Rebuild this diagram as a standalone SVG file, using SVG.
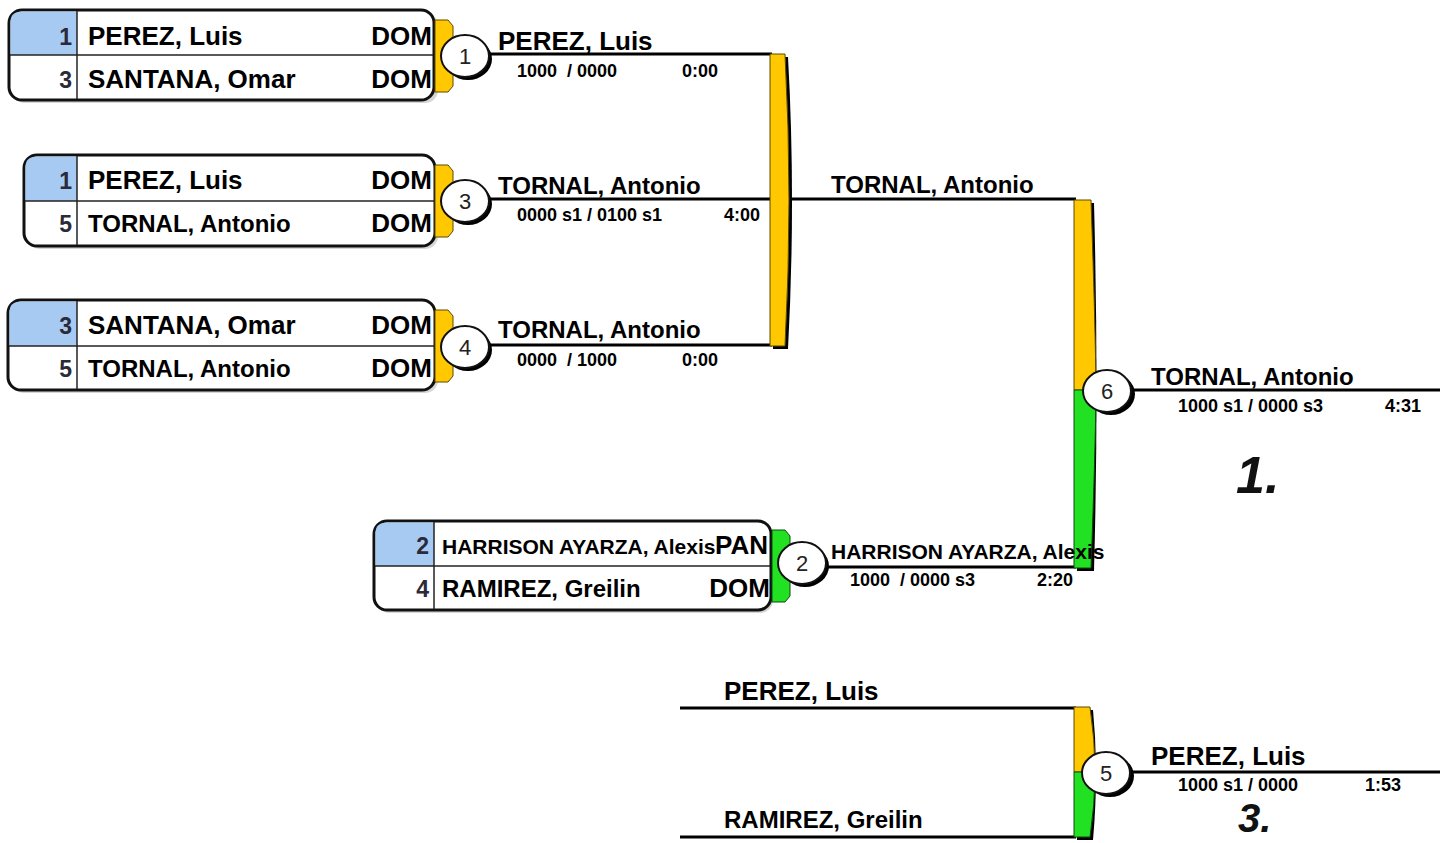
<svg xmlns="http://www.w3.org/2000/svg" width="1440" height="843" viewBox="0 0 1440 843">
<defs>
<style>
.bx{fill:#fff;stroke:#111;stroke-width:3}
.bs{fill:#bbb;opacity:0.6}
.blue{fill:#a6caf2}
.dv{stroke:#222;stroke-width:1.5;fill:none}
.t{font-family:"Liberation Sans",Arial,sans-serif;font-weight:bold;fill:#000}
.num{font-family:"Liberation Sans",Arial,sans-serif;font-weight:bold;fill:#2a2a3a;font-size:23px;text-anchor:end}
.cn{font-family:"Liberation Sans",Arial,sans-serif;fill:#222;font-size:22px;text-anchor:middle}
.ln{stroke:#000;stroke-width:3;fill:none}
.y{fill:#ffc800;stroke:#5a4a00;stroke-width:1}
.g{fill:#22e022;stroke:#0a4a0a;stroke-width:1}
.sh{fill:#000}
.ce{fill:#fff;stroke:#111;stroke-width:2}
.sc{font-size:18px}
.big{font-family:"Liberation Sans",Arial,sans-serif;font-weight:bold;font-style:italic;font-size:52px;fill:#111}
</style>
</defs>

<g id="connectors">
<line class="ln" x1="488" y1="54" x2="772" y2="54"/>
<line class="ln" x1="488" y1="199" x2="772" y2="199"/>
<line class="ln" x1="488" y1="345" x2="772" y2="345"/>
<line class="ln" x1="792" y1="199" x2="1076" y2="199"/>
<line class="ln" x1="826" y1="567" x2="1076" y2="567"/>
<line class="ln" x1="1130" y1="390" x2="1440" y2="390"/>
<line class="ln" x1="680" y1="708" x2="1076" y2="708"/>
<line class="ln" x1="680" y1="837" x2="1076" y2="837"/>
<line class="ln" x1="1130" y1="772" x2="1440" y2="772"/>
</g>

<g id="bar-r2">
<path class="sh" d="M773,57 H788 Q796,200 788,349 H773 Z"/>
<path class="y" d="M770,54 H785 Q793,200 785,346 H770 Z"/>
</g>
<g id="bar-final">
<path class="sh" d="M1077,203 H1094 Q1099,390 1094,571 H1077 Z"/>
<path class="y" d="M1074,200 H1091 Q1095.5,330 1096,390 H1074 Z"/>
<path class="g" d="M1074,390 H1096 Q1095.5,450 1091,568 H1074 Z"/>
</g>
<g id="bar-bronze">
<path class="sh" d="M1077,710 H1093 Q1099,772 1093,840 H1077 Z"/>
<path class="y" d="M1074,707 H1090 Q1095,740 1095,772 H1074 Z"/>
<path class="g" d="M1074,772 H1095 Q1095,805 1090,837 H1074 Z"/>
</g>

<g id="box-m1">
<rect class="bs" x="12" y="13" width="426" height="90" rx="13"/>
<rect class="bx" x="9" y="10" width="425" height="90" rx="13"/>
<path class="blue" d="M22,11.5 H77 V55 H10.5 V22 Q10.5,11.5 22,11.5 Z"/>
<line class="dv" x1="10" y1="55" x2="433" y2="55"/>
<line class="dv" x1="77" y1="11" x2="77" y2="99"/>
<text class="num" x="72" y="45">1</text>
<text class="num" x="72" y="88">3</text>
<text class="t" x="88" y="45" font-size="26">PEREZ, Luis</text>
<text class="t" x="88" y="88" font-size="26">SANTANA, Omar</text>
<text class="t" x="432" y="45" font-size="26" text-anchor="end">DOM</text>
<text class="t" x="432" y="88" font-size="26" text-anchor="end">DOM</text>
<path class="y" d="M435,20 H448 L453,26 V86 L448,92 H435 Z"/>
</g>

<g id="box-m3">
<rect class="bs" x="27" y="158" width="411" height="91" rx="13"/>
<rect class="bx" x="24" y="155" width="411" height="91" rx="13"/>
<path class="blue" d="M37,156.5 H77 V201 H25.5 V167 Q25.5,156.5 37,156.5 Z"/>
<line class="dv" x1="25" y1="201" x2="434" y2="201"/>
<line class="dv" x1="77" y1="156" x2="77" y2="245"/>
<text class="num" x="72" y="189">1</text>
<text class="num" x="72" y="232">5</text>
<text class="t" x="88" y="189" font-size="26">PEREZ, Luis</text>
<text class="t" x="88" y="232" font-size="24">TORNAL, Antonio</text>
<text class="t" x="432" y="189" font-size="26" text-anchor="end">DOM</text>
<text class="t" x="432" y="232" font-size="26" text-anchor="end">DOM</text>
<path class="y" d="M435,165 H448 L453,171 V231 L448,237 H435 Z"/>
</g>

<g id="box-m4">
<rect class="bs" x="11" y="303" width="427" height="90" rx="13"/>
<rect class="bx" x="8" y="300" width="427" height="90" rx="13"/>
<path class="blue" d="M21,301.5 H77 V346 H9.5 V312 Q9.5,301.5 21,301.5 Z"/>
<line class="dv" x1="9" y1="346" x2="434" y2="346"/>
<line class="dv" x1="77" y1="301" x2="77" y2="389"/>
<text class="num" x="72" y="334">3</text>
<text class="num" x="72" y="377">5</text>
<text class="t" x="88" y="334" font-size="26">SANTANA, Omar</text>
<text class="t" x="88" y="377" font-size="24">TORNAL, Antonio</text>
<text class="t" x="432" y="334" font-size="26" text-anchor="end">DOM</text>
<text class="t" x="432" y="377" font-size="26" text-anchor="end">DOM</text>
<path class="y" d="M435,310 H448 L453,316 V376 L448,382 H435 Z"/>
</g>

<g id="box-m2">
<rect class="bs" x="377" y="524" width="396" height="89" rx="13"/>
<rect class="bx" x="374" y="521" width="397" height="89" rx="13"/>
<path class="blue" d="M387,522.5 H434 V566 H375.5 V533 Q375.5,522.5 387,522.5 Z"/>
<line class="dv" x1="375" y1="566" x2="770" y2="566"/>
<line class="dv" x1="434" y1="522" x2="434" y2="609"/>
<text class="num" x="429" y="554">2</text>
<text class="num" x="429" y="597">4</text>
<text class="t" x="442" y="554" font-size="21">HARRISON AYARZA, Alexis</text>
<text class="t" x="442" y="597" font-size="24">RAMIREZ, Greilin</text>
<text class="t" x="768" y="554" font-size="26" text-anchor="end">PAN</text>
<text class="t" x="770" y="597" font-size="26" text-anchor="end">DOM</text>
<path class="g" d="M772,530 H785 L790,536 V596 L785,602 H772 Z"/>
</g>

<g id="match1">
<ellipse class="sh" cx="468" cy="59" rx="24" ry="21"/>
<ellipse class="ce" cx="465" cy="56" rx="24" ry="21"/>
<text class="cn" x="465" y="64">1</text>
<text class="t" x="498" y="50" font-size="26">PEREZ, Luis</text>
<text class="t sc" x="517" y="77" xml:space="preserve">1000  / 0000</text>
<text class="t sc" x="682" y="77">0:00</text>
</g>
<g id="match3">
<ellipse class="sh" cx="468" cy="204" rx="24" ry="21"/>
<ellipse class="ce" cx="465" cy="201" rx="24" ry="21"/>
<text class="cn" x="465" y="209">3</text>
<text class="t" x="498" y="194" font-size="24">TORNAL, Antonio</text>
<text class="t sc" x="517" y="221">0000 s1 / 0100 s1</text>
<text class="t sc" x="724" y="221">4:00</text>
</g>
<g id="match4">
<ellipse class="sh" cx="468" cy="350" rx="24" ry="21"/>
<ellipse class="ce" cx="465" cy="347" rx="24" ry="21"/>
<text class="cn" x="465" y="355">4</text>
<text class="t" x="498" y="338" font-size="24">TORNAL, Antonio</text>
<text class="t sc" x="517" y="366" xml:space="preserve">0000  / 1000</text>
<text class="t sc" x="682" y="366">0:00</text>
</g>
<g id="semi-winner">
<text class="t" x="831" y="193" font-size="24">TORNAL, Antonio</text>
</g>
<g id="match2">
<ellipse class="sh" cx="805" cy="566" rx="24" ry="21"/>
<ellipse class="ce" cx="802" cy="563" rx="24" ry="21"/>
<text class="cn" x="802" y="571">2</text>
<text class="t" x="831" y="559" font-size="21">HARRISON AYARZA, Alexis</text>
<text class="t sc" x="850" y="586" xml:space="preserve">1000  / 0000 s3</text>
<text class="t sc" x="1037" y="586">2:20</text>
</g>
<g id="match6">
<ellipse class="sh" cx="1111" cy="394" rx="24" ry="21"/>
<ellipse class="ce" cx="1107" cy="391" rx="24" ry="21"/>
<text class="cn" x="1107" y="399">6</text>
<text class="t" x="1151" y="385" font-size="24">TORNAL, Antonio</text>
<text class="t sc" x="1178" y="412">1000 s1 / 0000 s3</text>
<text class="t sc" x="1385" y="412">4:31</text>
<text class="big" x="1236" y="493">1.</text>
</g>
<g id="bronze-left">
<text class="t" x="724" y="700" font-size="26">PEREZ, Luis</text>
<text class="t" x="724" y="828" font-size="24">RAMIREZ, Greilin</text>
</g>
<g id="match5">
<ellipse class="sh" cx="1110" cy="776" rx="24" ry="21"/>
<ellipse class="ce" cx="1106" cy="773" rx="24" ry="21"/>
<text class="cn" x="1106" y="781">5</text>
<text class="t" x="1151" y="765" font-size="26">PEREZ, Luis</text>
<text class="t sc" x="1178" y="791">1000 s1 / 0000</text>
<text class="t sc" x="1365" y="791">1:53</text>
<text class="big" x="1238" y="832" style="font-size:40px">3.</text>
</g>
</svg>
